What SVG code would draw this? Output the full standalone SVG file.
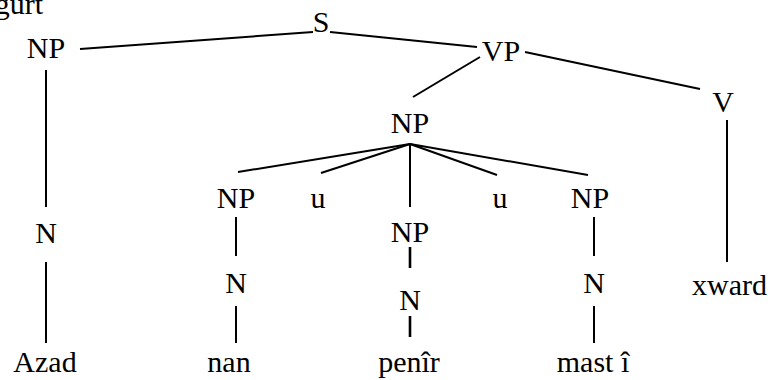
<svg xmlns="http://www.w3.org/2000/svg" width="773" height="380" viewBox="0 0 773 380">
<style>
text{font-family:'Liberation Serif','Times New Roman','DejaVu Serif',serif;font-size:30px;fill:#000;text-anchor:middle}
.c line{stroke:#000;stroke-width:2;fill:none}
</style>
<rect width="773" height="380" fill="#fff"/>
<g class="c" id="connectors">
<line x1="80" y1="49" x2="313" y2="32"/>
<line x1="330" y1="32" x2="477" y2="47"/>
<line x1="525" y1="52" x2="700" y2="89"/>
<line x1="480" y1="57" x2="413" y2="97"/>
<line x1="46" y1="70" x2="46" y2="207"/>
<line x1="46" y1="262" x2="46" y2="343"/>
<line x1="410" y1="144" x2="238" y2="172"/>
<line x1="410" y1="144" x2="321" y2="173"/>
<line x1="410" y1="144" x2="410" y2="207"/>
<line x1="410" y1="144" x2="497" y2="175"/>
<line x1="410" y1="144" x2="588" y2="175"/>
<line x1="236" y1="217" x2="236" y2="256"/>
<line x1="236" y1="306" x2="236" y2="343"/>
<line x1="410" y1="247" x2="410" y2="268" style="stroke-width:2.6"/>
<line x1="410" y1="316" x2="410" y2="337" style="stroke-width:2.6"/>
<line x1="594" y1="217" x2="594" y2="256"/>
<line x1="594" y1="306" x2="594" y2="343"/>
<line x1="727" y1="120" x2="727" y2="262"/>
</g>
<g id="gurt"><text x="43" y="14" style="text-anchor:end">gurt</text></g>
<g id="S"><text x="321" y="32">S</text></g>
<g id="NP1"><text x="46" y="58">NP</text></g>
<g id="VP"><text x="501" y="61">VP</text></g>
<g id="V"><text x="723" y="112">V</text></g>
<g id="NP2"><text x="410" y="133">NP</text></g>
<g id="NP3"><text x="236" y="208">NP</text></g>
<g id="u1"><text x="318" y="208">u</text></g>
<g id="u2"><text x="500" y="208">u</text></g>
<g id="NP5"><text x="590" y="208">NP</text></g>
<g id="NP4"><text x="410" y="242">NP</text></g>
<g id="N1"><text x="46" y="243">N</text></g>
<g id="N2"><text x="236" y="293">N</text></g>
<g id="N3"><text x="410" y="310">N</text></g>
<g id="N4"><text x="594" y="293">N</text></g>
<g id="xward"><text x="692" y="295" style="text-anchor:start">xward</text></g>
<g id="Azad"><text x="45" y="372">Azad</text></g>
<g id="nan"><text x="229" y="372">nan</text></g>
<g id="penir"><text x="409" y="372">penîr</text></g>
<g id="masti"><text x="593" y="372">mast î</text></g>
</svg>
